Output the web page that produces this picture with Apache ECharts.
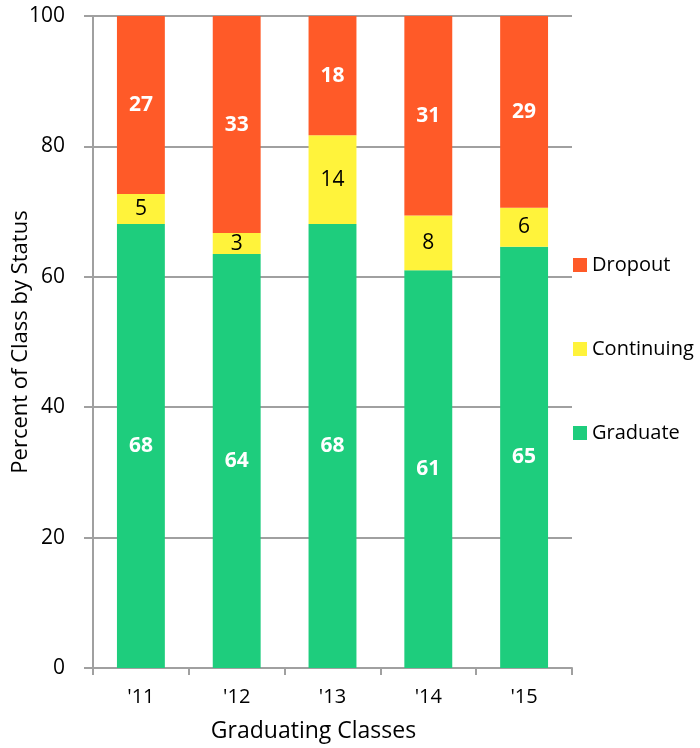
<!DOCTYPE html>
<html>
<head>
<meta charset="utf-8">
<script src="https://cdn.jsdelivr.net/npm/echarts@6/dist/echarts.min.js"></script>
<style>html,body{margin:0;padding:0;background:#fff}#c{width:700px;height:748px}</style>
</head>
<body>
<div id="c"></div>
<script>
const categories = ["'11", "'12", "'13", "'14", "'15"];
const graduate = [68.1, 63.5, 68.1, 61.0, 64.6];
const continuing = [4.6, 3.2, 13.6, 8.4, 6.0];
const dropout = [27.3, 33.3, 18.3, 30.6, 29.4];
const yTicks = [0, 20, 40, 60, 80, 100];

const FONT = '"Open Sans", Lato, sans-serif';
const chart = echarts.init(document.getElementById('c'), null, {renderer: 'canvas'});
const whiteLbl = {show: true, position: 'inside', color: '#fff', fontWeight: 'bold', fontSize: 21, fontFamily: FONT,
  formatter: p => Math.round(p.value)};
const blackLbl = {show: true, position: 'inside', color: '#000', fontSize: 21, fontFamily: FONT,
  formatter: p => Math.round(p.value)};
chart.setOption({
  animation: false,
  grid: {left: 93, right: 128, top: 16, bottom: 80, containLabel: false, outerBoundsMode: 'none'},
  legend: {
    orient: 'vertical', left: 568, top: 250,
    data: ['Dropout', 'Continuing', 'Graduate'],
    itemWidth: 14, itemHeight: 14, itemGap: 64, icon: 'rect',
    textStyle: {fontSize: 20, fontFamily: FONT, color: '#000'}
  },
  xAxis: {
    type: 'category', data: categories,
    axisLine: {lineStyle: {color: '#a0a0a0', width: 2}},
    axisTick: {show: true, length: 7, lineStyle: {color: '#a0a0a0', width: 2}},
    axisLabel: {color: '#000', fontSize: 20, fontFamily: FONT, margin: 19},
    name: 'Graduating Classes', nameLocation: 'middle', nameGap: 52, nameMoveOverlap: false,
    nameTextStyle: {fontSize: 23, fontFamily: FONT, color: '#000', padding: [0, 38, 0, 0]}
  },
  yAxis: {
    type: 'value', min: yTicks[0], max: yTicks[yTicks.length - 1], interval: 20,
    axisLine: {show: true, lineStyle: {color: '#a0a0a0', width: 2}},
    axisTick: {show: true, length: 9, lineStyle: {color: '#a0a0a0', width: 2}},
    splitLine: {lineStyle: {color: '#a0a0a0', width: 2}},
    axisLabel: {color: '#000', fontSize: 21, fontFamily: FONT, margin: 28},
    name: 'Percent of Class by Status', nameLocation: 'middle', nameGap: 61, nameMoveOverlap: false,
    nameTextStyle: {fontSize: 22, fontFamily: FONT, color: '#000'}
  },
  series: [
    {name: 'Graduate', type: 'bar', stack: 's', data: graduate, barWidth: '50%',
     itemStyle: {color: '#1ecd7d'}, label: whiteLbl},
    {name: 'Continuing', type: 'bar', stack: 's', data: continuing, barWidth: '50%',
     itemStyle: {color: '#fff33b'}, label: blackLbl},
    {name: 'Dropout', type: 'bar', stack: 's', data: dropout, barWidth: '50%',
     itemStyle: {color: '#ff5a28'}, label: whiteLbl}
  ]
});
</script>
</body>
</html>
